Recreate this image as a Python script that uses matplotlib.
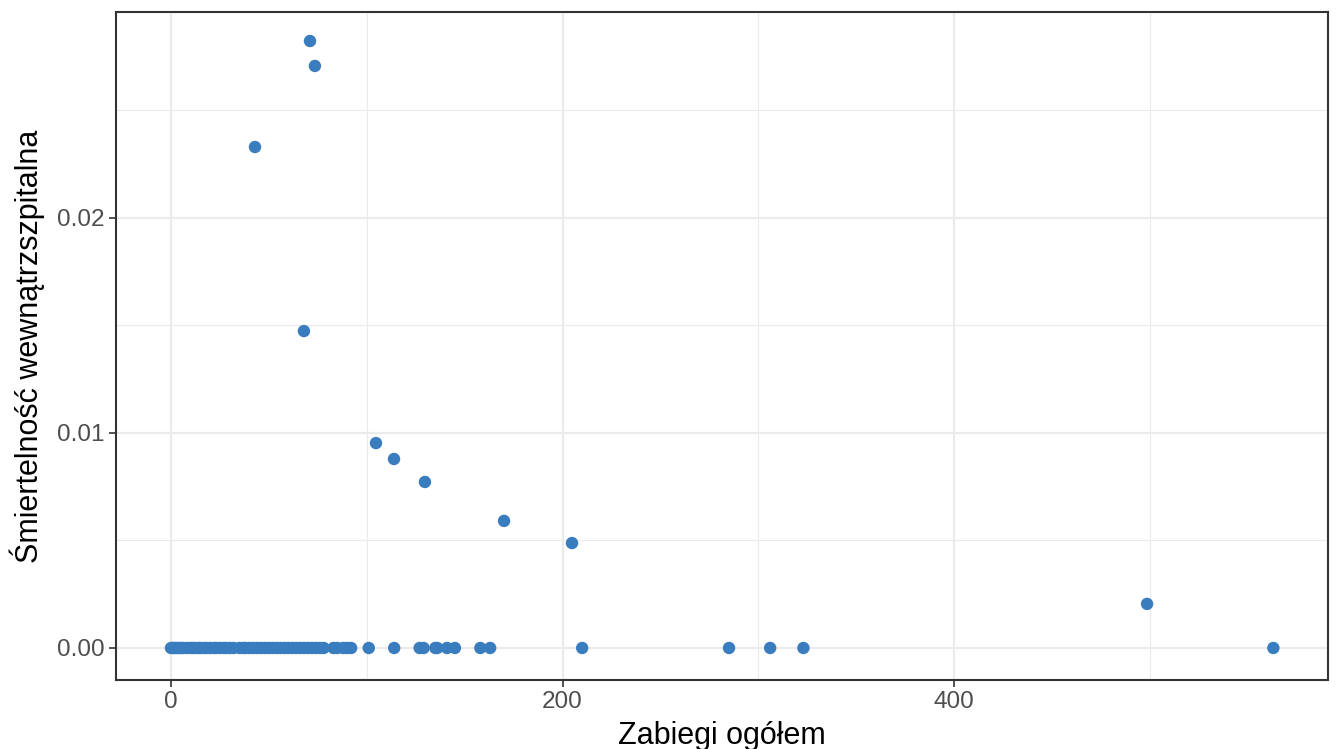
import matplotlib.pyplot as plt
from matplotlib.ticker import MultipleLocator

plt.rcParams['font.family'] = ['Liberation Sans', 'DejaVu Sans']

# procedures total vs in-hospital mortality (non-zero mortality)
x_nonzero = [71.0, 73.5, 42.9, 67.9, 104.7, 113.9, 129.7, 170.1, 204.8, 498.5]
y_nonzero = [0.02823, 0.02707, 0.0233, 0.01474, 0.00953, 0.00879, 0.00772, 0.00591, 0.00488, 0.00205]

# hospitals with zero mortality
x_zero = [0, 1, 2, 3, 4, 5, 6, 8, 10, 11, 12, 14, 15, 17, 18, 20, 22, 23, 25, 27,
          28, 30, 32, 35, 37, 38, 40, 42, 44, 46, 48, 50, 52, 54, 56, 58, 60, 62,
          64, 66, 68, 70, 72, 74, 76, 78, 83, 85, 88, 90, 92, 101, 114, 127, 129,
          135, 136, 141, 145, 158, 163, 210, 285, 306, 323, 563]

xs = x_zero + x_nonzero
ys = [0.0] * len(x_zero) + y_nonzero

fig = plt.figure(figsize=(13.36, 7.49), dpi=100)
ax = fig.add_axes([0.0868, 0.0921, 0.9072, 0.8919])

ax.scatter(xs, ys, s=80, color='#3A7DBF', edgecolors='none', zorder=3)

ax.set_xlim(-28.1, 590.9)
ax.set_ylim(-0.00149, 0.02958)
ax.xaxis.set_minor_locator(MultipleLocator(100))
ax.yaxis.set_minor_locator(MultipleLocator(0.005))
ax.set_yticks([0, 0.01, 0.02], ['0.00', '0.01', '0.02'])
ax.set_xticks([0, 200, 400], ['0', '200', '400'])

ax.grid(which='major', color='#EBEBEB', linewidth=1.6, zorder=0)
ax.grid(which='minor', color='#EBEBEB', linewidth=0.8, zorder=0)
ax.set_axisbelow(True)
for sp in ax.spines.values():
    sp.set_color('#333333')
    sp.set_linewidth(1.5)
ax.tick_params(which='major', length=5, width=1.2, color='#333333',
               labelsize=17.5, labelcolor='#4D4D4D', pad=3)
ax.tick_params(which='minor', length=0)

ax.set_xlabel('Zabiegi ogółem', fontsize=22, color='black', labelpad=6)
ax.set_ylabel('Śmiertelność wewnątrzszpitalna', fontsize=22, color='black', labelpad=9)

fig.savefig('out.png', dpi=100)
